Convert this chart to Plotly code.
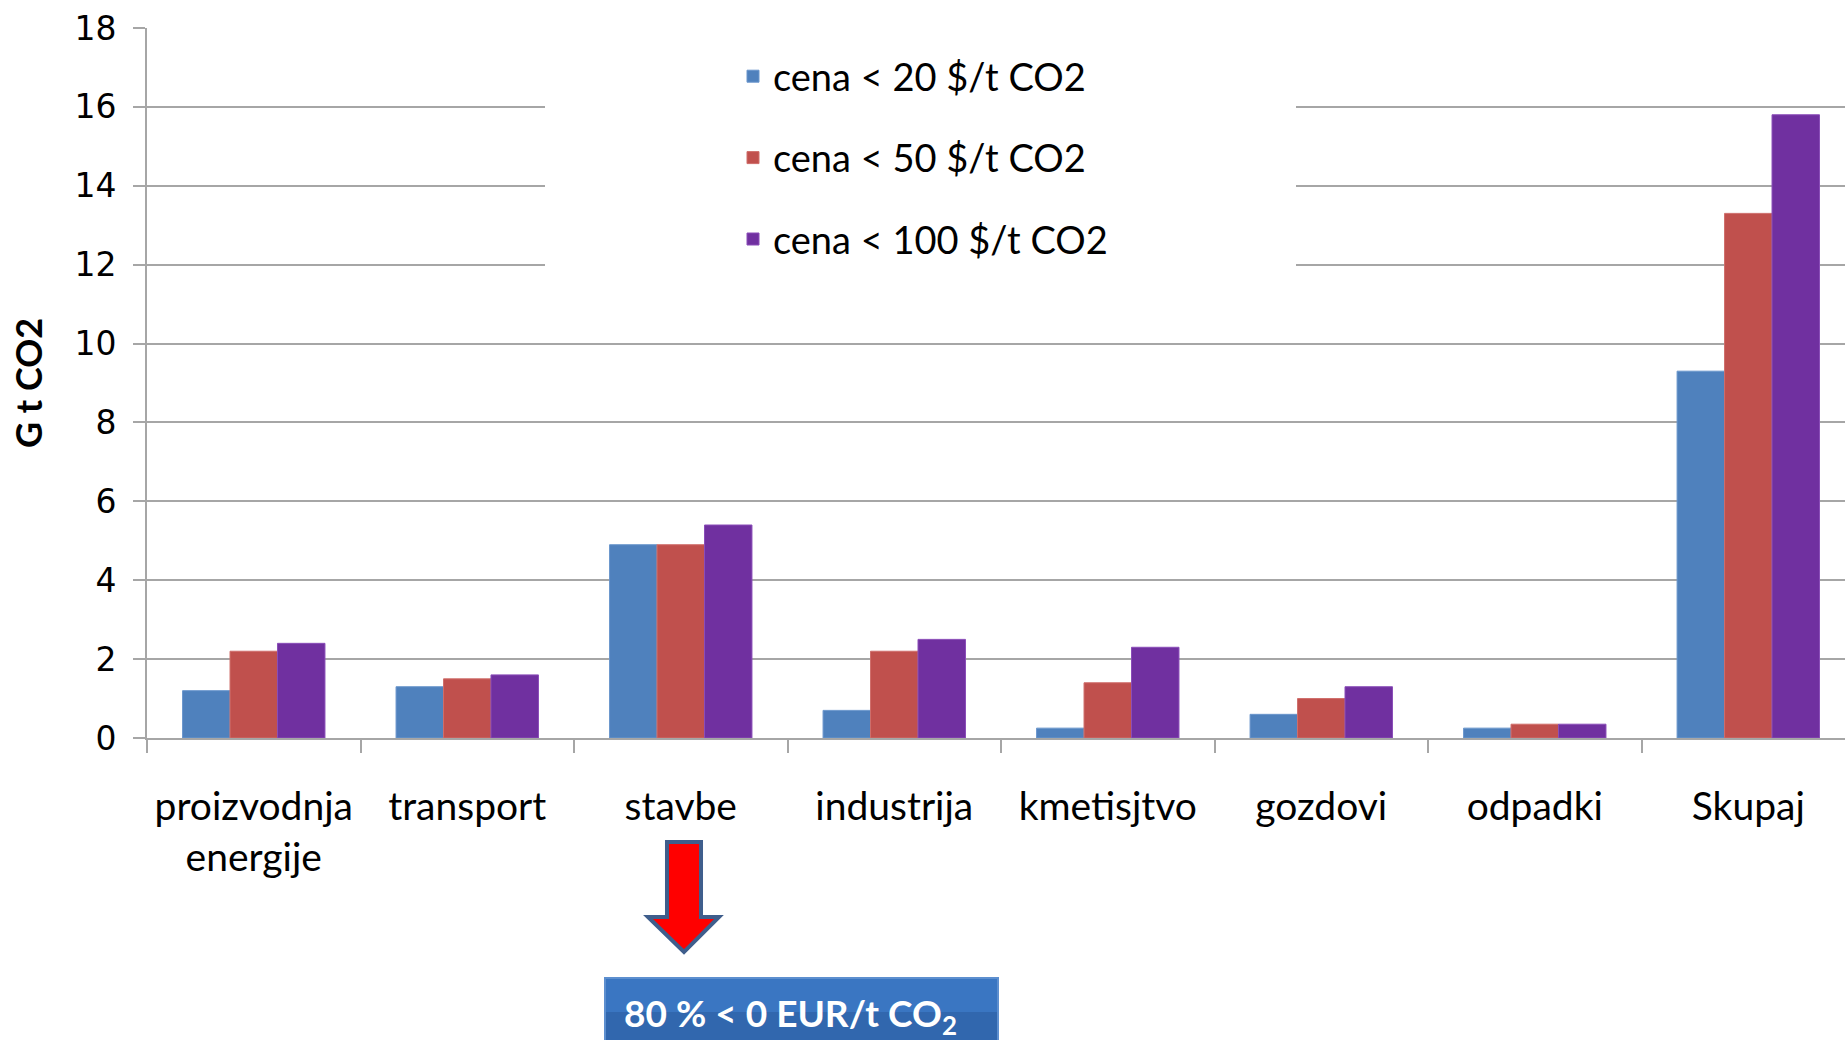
import plotly.graph_objects as go

# Sector categories and abatement potential (Gt CO2) at three carbon prices
categories = ["proizvodnja<br>energije", "transport", "stavbe", "industrija",
              "kmetisjtvo", "gozdovi", "odpadki", "Skupaj"]
price_20 = [1.2, 1.3, 4.9, 0.7, 0.25, 0.6, 0.25, 9.3]
price_50 = [2.2, 1.5, 4.9, 2.2, 1.4, 1.0, 0.35, 13.3]
price_100 = [2.4, 1.6, 5.4, 2.5, 2.3, 1.3, 0.35, 15.8]
series_names = ["cena < 20 $/t CO2", "cena < 50 $/t CO2", "cena < 100 $/t CO2"]
y_ticks = [0, 2, 4, 6, 8, 10, 12, 14, 16, 18]

colors = ["#4F81BD", "#C0504D", "#7030A0"]
edge_colors = ["#6A96CC", "#CF6E6B", "#8A4DB8"]

W, H = 1845, 1040
L, R, T, B = 147, 0, 28, 302
PW, PH = W - L - R, H - T - B


def px(x):
    return (x - L) / PW


def py(y):
    return (H - B - y) / PH


fig = go.Figure()
for i, (name, vals) in enumerate(zip(series_names, [price_20, price_50, price_100])):
    fig.add_trace(go.Bar(
        x=categories, y=vals, name=name, legendgroup=f"g{i}",
        marker=dict(color=colors[i], line=dict(color=edge_colors[i], width=1)),
    ))

# white panel behind the legend
fig.add_shape(type="rect", xref="paper", yref="paper", layer="above",
              x0=px(545), x1=px(1296), y0=py(280), y1=py(34),
              fillcolor="white", line=dict(width=0))

# red down arrow under "stavbe"
ax = [667, 701, 701, 719, 684, 648, 667]
ay = [842, 842, 917, 917, 952, 917, 917]
path = "M " + " L ".join(f"{px(a):.5f},{py(b):.5f}" for a, b in zip(ax, ay)) + " Z"
fig.add_shape(type="path", xref="paper", yref="paper", path=path,
              fillcolor="#FF0000", line=dict(color="#3F5E8C", width=4))

# blue callout box
fig.add_shape(type="rect", xref="paper", yref="paper",
              x0=px(605), x1=px(998), y0=py(1045), y1=py(978),
              fillcolor="#3A76C2", line=dict(color="#5D8FCF", width=2))
fig.add_shape(type="rect", xref="paper", yref="paper",
              x0=px(606), x1=px(997), y0=py(1045), y1=py(1012),
              fillcolor="#3167AE", line=dict(width=0))
fig.add_annotation(xref="paper", yref="paper", x=px(622), y=py(1015),
                   xanchor="left", yanchor="middle", showarrow=False,
                   text="80 % < 0 EUR/t CO<sub>2</sub>",
                   font=dict(family="Lato", size=37, color="white", weight="bold"))

fig.update_layout(
    width=W, height=H,
    margin=dict(l=L, r=R, t=T, b=B, pad=0),
    paper_bgcolor="white", plot_bgcolor="white",
    barmode="group", bargap=0.333, bargroupgap=0,
    showlegend=True,
    legend=dict(x=px(733), y=py(45), xanchor="left", yanchor="top",
                bgcolor="rgba(0,0,0,0)", tracegroupgap=29, traceorder="grouped",
                font=dict(family="Lato", size=38, color="black")),
    font=dict(family="Lato", color="black"),
)

fig.update_xaxes(
    type="category", range=[-0.5, 7.453],
    tickson="boundaries", ticks="outside", ticklen=13, tickwidth=2, tickcolor="#A6A6A6",
    showline=True, linecolor="#A6A6A6", linewidth=2,
    showgrid=False, ticklabelstandoff=33,
    tickfont=dict(family="Lato", size=39, color="black"),
)
fig.update_yaxes(
    range=[0, 18], tickvals=y_ticks,
    ticks="outside", ticklen=12, tickwidth=2, tickcolor="#A6A6A6",
    showline=True, linecolor="#A6A6A6", linewidth=2,
    showgrid=True, gridcolor="#A6A6A6", gridwidth=2, zeroline=False,
    ticklabelstandoff=10,
    tickfont=dict(family="DejaVu Sans", size=33, color="black"),
    title=dict(text="G t CO2", standoff=21,
               font=dict(family="Lato", size=36, color="black", weight="bold")),
)

fig.write_html("out.html")
